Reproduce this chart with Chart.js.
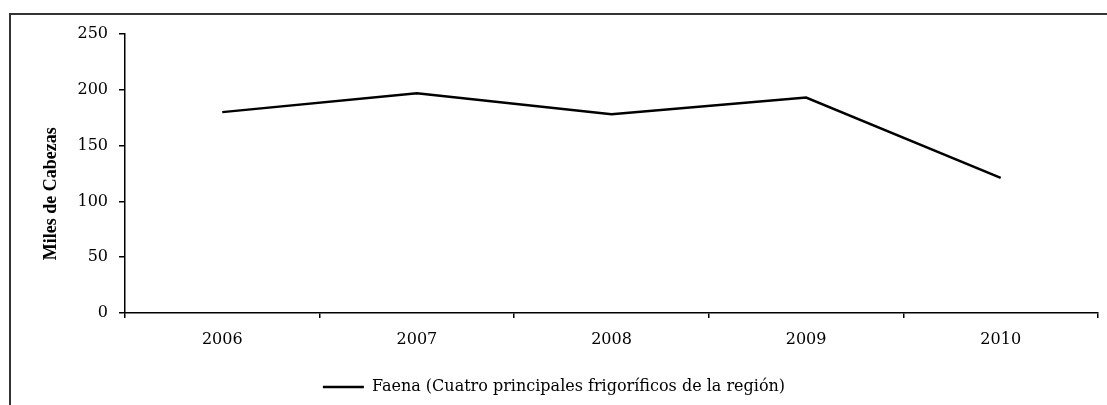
<!DOCTYPE html>
<html>
<head>
<meta charset="utf-8">
<script src="https://cdn.jsdelivr.net/npm/chart.js@4.4.1/dist/chart.umd.min.js"></script>
<style>
  body { margin: 0; background: #fff; }
  #wrap { position: relative; width: 1107px; height: 405px; overflow: hidden; }
  #marco { position: absolute; left: 9px; top: 13px; width: 1200px; height: 500px;
           border-left: 2px solid #333; border-top: 2px solid #333; }
  canvas { position: absolute; left: 0; top: 0; }
</style>
</head>
<body>
<div id="wrap">
  <div id="marco"></div>
  <canvas id="grafico" width="1107" height="405"></canvas>
</div>
<script>
  const anios = ['2006', '2007', '2008', '2009', '2010'];
  const faena = [180, 197, 178, 193, 121];
  const nombreSerie = 'Faena (Cuatro principales frigoríficos de la región)';
  const tituloEjeY = 'Miles de Cabezas';

  const fuente = "'DejaVu Serif', 'Liberation Serif', serif";
  const fuenteTitulo = "'Liberation Serif', 'Times New Roman', serif";

  const ctx = document.getElementById('grafico').getContext('2d');

  let grafico = new Chart(ctx, {
    type: 'line',
    data: {
      labels: anios,
      datasets: [{
        label: nombreSerie,
        data: faena,
        borderColor: '#000',
        backgroundColor: '#000',
        borderWidth: 2.5,
        pointRadius: 0,
        tension: 0
      }]
    },
    options: {
      responsive: false,
      animation: false,
      layout: {
        padding: { left: 10, top: 34, right: 9, bottom: 0 }
      },
      plugins: {
        legend: {
          position: 'bottom',
          labels: {
            boxWidth: 41,
            boxHeight: 0,
            padding: 10,
            color: '#000',
            font: { family: fuente, size: 16 }
          }
        },
        tooltip: { enabled: false }
      },
      scales: {
        x: {
          offset: true,
          grid: { offset: true, drawOnChartArea: false, tickLength: 5, color: '#000', lineWidth: 1.5 },
          border: { color: '#000', width: 1.5 },
          ticks: { color: '#000', padding: 12, font: { family: fuente, size: 16 } },
          afterFit: function (escala) { escala.height = 56; }
        },
        y: {
          min: 0,
          max: 250,
          ticks: { stepSize: 50, color: '#000', padding: 11, font: { family: fuente, size: 16 } },
          grid: { drawOnChartArea: false, tickLength: 6, color: '#000', lineWidth: 1.5 },
          border: { color: '#000', width: 1.5 },
          title: {
            display: true,
            // espacios al final para bajar el texto como en el original
            text: tituloEjeY + '\u00a0'.repeat(9),
            color: '#000',
            padding: { top: 31, bottom: 0 },
            font: { family: fuenteTitulo, size: 18, weight: 'bold' }
          },
          afterFit: function (escala) { escala.width = 115; }
        }
      }
    }
  });
</script>
</body>
</html>
